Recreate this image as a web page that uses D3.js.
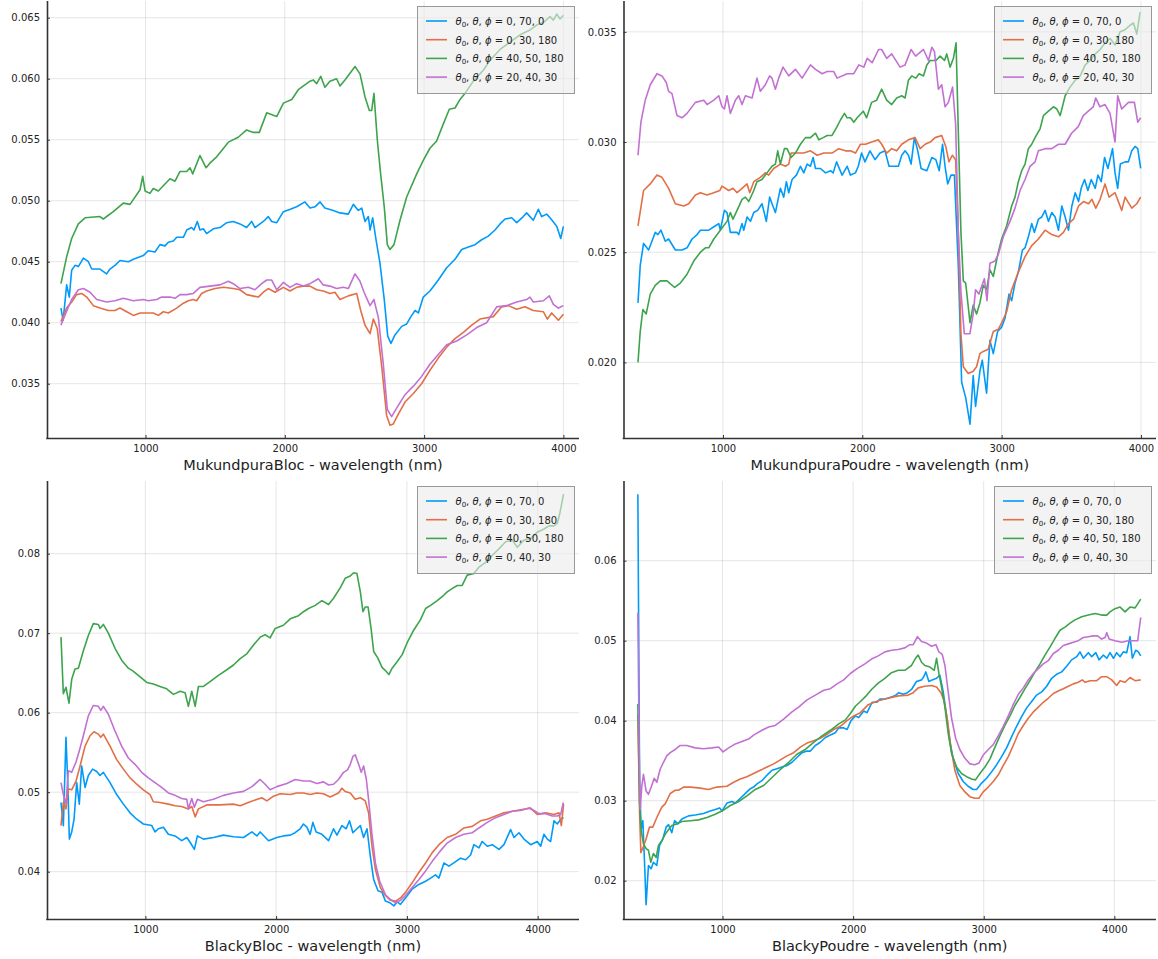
<!DOCTYPE html>
<html><head><meta charset="utf-8">
<script src="https://cdn.jsdelivr.net/npm/d3@7"></script>
<style>html,body{margin:0;padding:0;background:#fff;}svg{display:block;font-family:"DejaVu Sans",sans-serif;}</style>
</head><body>
<svg id="chart" width="1158" height="959"></svg>
<script>
// ---------------- DATA ----------------
const xTicks = [1000, 2000, 3000, 4000];
const yTicksMB = [0.035, 0.040, 0.045, 0.050, 0.055, 0.060, 0.065];
const yTicksMP = [0.020, 0.025, 0.030, 0.035];
const yTicksBB = [0.04, 0.05, 0.06, 0.07, 0.08];
const yTicksBP = [0.02, 0.03, 0.04, 0.05, 0.06];
const labelsMukundpura = ["0, 70, 0", "0, 30, 180", "40, 50, 180", "20, 40, 30"];
const labelsBlacky = ["0, 70, 0", "0, 30, 180", "40, 50, 180", "0, 40, 30"];
const titles = ["MukundpuraBloc - wavelength (nm)", "MukundpuraPoudre - wavelength (nm)", "BlackyBloc - wavelength (nm)", "BlackyPoudre - wavelength (nm)"];

const mbBlue = [[393,0.0412],[409,0.0402],[434,0.0431],[453,0.0421],[470,0.0443],[494,0.0447],[518,0.0446],[554,0.0453],[590,0.0450],[614,0.0444],[673,0.0444],[721,0.0440],[745,0.0444],[781,0.0447],[817,0.0451],[877,0.0450],[913,0.0452],[984,0.0455],[1020,0.0459],[1068,0.0458],[1104,0.0464],[1140,0.0463],[1164,0.0466],[1200,0.0467],[1224,0.0470],[1272,0.0470],[1296,0.0476],[1331,0.0478],[1348,0.0476],[1372,0.0483],[1391,0.0476],[1415,0.0477],[1439,0.0473],[1487,0.0477],[1535,0.0478],[1583,0.0482],[1630,0.0483],[1678,0.0481],[1726,0.0478],[1762,0.0483],[1786,0.0478],[1846,0.0483],[1881,0.0487],[1906,0.0483],[1942,0.0482],[1990,0.0491],[2040,0.0493],[2085,0.0495],[2145,0.0499],[2181,0.0494],[2217,0.0495],[2253,0.0499],[2288,0.0494],[2348,0.0492],[2396,0.0490],[2456,0.0489],[2492,0.0497],[2528,0.0492],[2552,0.0494],[2576,0.0483],[2600,0.0487],[2612,0.0476],[2631,0.0486],[2655,0.0468],[2683,0.0449],[2714,0.0419],[2739,0.0389],[2762,0.0383],[2791,0.0390],[2839,0.0397],[2875,0.0399],[2911,0.0406],[2935,0.0410],[2959,0.0408],[2994,0.0421],[3042,0.0426],[3102,0.0435],[3162,0.0445],[3222,0.0452],[3270,0.0460],[3318,0.0462],[3366,0.0464],[3413,0.0468],[3461,0.0471],[3509,0.0476],[3545,0.0481],[3581,0.0485],[3629,0.0486],[3665,0.0482],[3712,0.0487],[3736,0.0490],[3784,0.0484],[3820,0.0493],[3844,0.0487],[3880,0.0489],[3904,0.0486],[3952,0.0479],[3981,0.0469],[4000,0.0479]];
const mbOrange = [[393,0.0401],[434,0.0412],[470,0.0417],[506,0.0423],[542,0.0424],[578,0.0421],[626,0.0414],[673,0.0412],[733,0.0410],[781,0.0410],[817,0.0412],[865,0.0409],[913,0.0406],[961,0.0408],[1009,0.0408],[1056,0.0408],[1092,0.0406],[1128,0.0409],[1164,0.0408],[1224,0.0412],[1272,0.0416],[1307,0.0418],[1343,0.0419],[1367,0.0418],[1403,0.0424],[1439,0.0426],[1499,0.0428],[1559,0.0429],[1630,0.0428],[1678,0.0427],[1726,0.0423],[1810,0.0421],[1846,0.0425],[1881,0.0428],[1930,0.0425],[1990,0.0429],[2037,0.0426],[2085,0.0429],[2133,0.0430],[2181,0.0430],[2229,0.0427],[2276,0.0426],[2324,0.0424],[2360,0.0425],[2396,0.0419],[2456,0.0422],[2516,0.0424],[2545,0.0410],[2576,0.0398],[2612,0.0391],[2636,0.0403],[2664,0.0395],[2696,0.0364],[2731,0.0324],[2755,0.0316],[2779,0.0317],[2815,0.0325],[2863,0.0335],[2923,0.0342],[2982,0.0350],[3042,0.0361],[3102,0.0371],[3162,0.0380],[3222,0.0387],[3282,0.0392],[3342,0.0398],[3401,0.0403],[3497,0.0405],[3557,0.0413],[3605,0.0414],[3665,0.0411],[3724,0.0413],[3784,0.0410],[3856,0.0409],[3885,0.0403],[3916,0.0408],[3964,0.0402],[4000,0.0407]];
const mbGreen = [[393,0.0432],[434,0.0454],[470,0.0469],[518,0.0481],[566,0.0486],[673,0.0487],[697,0.0485],[769,0.0491],[841,0.0498],[889,0.0497],[961,0.0509],[980,0.0520],[997,0.0508],[1032,0.0506],[1056,0.0510],[1092,0.0508],[1176,0.0518],[1212,0.0516],[1248,0.0524],[1296,0.0524],[1320,0.0527],[1339,0.0522],[1391,0.0537],[1435,0.0527],[1464,0.0531],[1511,0.0536],[1595,0.0548],[1666,0.0552],[1726,0.0558],[1774,0.0556],[1817,0.0556],[1870,0.0572],[1918,0.0570],[1942,0.0569],[1990,0.0580],[2050,0.0583],[2097,0.0591],[2181,0.0598],[2205,0.0599],[2229,0.0596],[2258,0.0602],[2288,0.0593],[2324,0.0598],[2372,0.0600],[2396,0.0594],[2432,0.0599],[2504,0.0610],[2540,0.0604],[2576,0.0585],[2607,0.0574],[2624,0.0574],[2640,0.0588],[2664,0.0550],[2688,0.0522],[2714,0.0495],[2736,0.0464],[2755,0.0460],[2784,0.0464],[2827,0.0484],[2875,0.0503],[2947,0.0522],[2994,0.0533],[3042,0.0543],[3090,0.0549],[3138,0.0563],[3181,0.0575],[3222,0.0576],[3258,0.0583],[3294,0.0588],[3353,0.0598],[3425,0.0607],[3473,0.0615],[3545,0.0624],[3617,0.0630],[3689,0.0636],[3760,0.0640],[3808,0.0644],[3856,0.0646],[3904,0.0651],[3928,0.0648],[3952,0.0653],[3976,0.0649],[4000,0.0652]];
const mbPurple = [[393,0.0398],[421,0.0406],[470,0.0419],[518,0.0427],[554,0.0428],[602,0.0425],[650,0.0419],[721,0.0417],[781,0.0418],[841,0.0420],[913,0.0418],[984,0.0419],[1020,0.0418],[1080,0.0419],[1116,0.0421],[1176,0.0421],[1212,0.0420],[1248,0.0423],[1296,0.0423],[1343,0.0424],[1391,0.0429],[1463,0.0430],[1535,0.0431],[1595,0.0434],[1630,0.0432],[1678,0.0428],[1738,0.0429],[1786,0.0427],[1834,0.0432],[1870,0.0435],[1906,0.0435],[1942,0.0427],[1990,0.0433],[2037,0.0429],[2085,0.0432],[2133,0.0430],[2181,0.0432],[2241,0.0436],[2276,0.0431],[2324,0.0430],[2372,0.0428],[2420,0.0429],[2456,0.0428],[2504,0.0440],[2540,0.0434],[2569,0.0425],[2612,0.0414],[2640,0.0419],[2672,0.0404],[2707,0.0366],[2736,0.0329],[2767,0.0323],[2803,0.0330],[2863,0.0341],[2923,0.0348],[2982,0.0356],[3042,0.0366],[3102,0.0374],[3162,0.0382],[3234,0.0385],[3306,0.0390],[3378,0.0396],[3449,0.0400],[3521,0.0413],[3593,0.0414],[3665,0.0417],[3736,0.0419],[3760,0.0421],[3784,0.0417],[3856,0.0418],[3899,0.0422],[3928,0.0415],[3964,0.0412],[4000,0.0414]];

const mpBlue = [[390,0.0227],[406,0.0244],[430,0.0254],[466,0.0251],[490,0.0255],[514,0.0259],[533,0.0258],[555,0.0260],[586,0.0255],[610,0.0256],[658,0.0251],[706,0.0251],[742,0.0252],[778,0.0256],[814,0.0258],[838,0.0260],[898,0.0260],[946,0.0262],[970,0.0263],[981,0.0260],[1010,0.0269],[1029,0.0268],[1053,0.0259],[1101,0.0259],[1113,0.0258],[1137,0.0263],[1149,0.0260],[1173,0.0266],[1197,0.0264],[1221,0.0268],[1249,0.0269],[1280,0.0272],[1292,0.0269],[1311,0.0264],[1335,0.0275],[1352,0.0272],[1376,0.0268],[1412,0.0279],[1436,0.0275],[1455,0.0282],[1472,0.0277],[1496,0.0283],[1527,0.0285],[1556,0.0289],[1580,0.0286],[1604,0.0290],[1628,0.0289],[1647,0.0293],[1664,0.0288],[1700,0.0288],[1736,0.0286],[1772,0.0287],[1791,0.0286],[1815,0.0291],[1855,0.0285],[1891,0.0289],[1915,0.0285],[1951,0.0286],[1971,0.0289],[1995,0.0295],[2019,0.0291],[2055,0.0296],[2091,0.0292],[2127,0.0295],[2163,0.0296],[2192,0.0289],[2235,0.0289],[2259,0.0289],[2283,0.0294],[2307,0.0296],[2331,0.0294],[2350,0.0290],[2374,0.0302],[2398,0.0296],[2422,0.0288],[2463,0.0287],[2499,0.0293],[2528,0.0292],[2552,0.0287],[2576,0.0299],[2594,0.0289],[2613,0.0281],[2637,0.0285],[2661,0.0285],[2689,0.0244],[2713,0.0191],[2742,0.0184],[2773,0.0172],[2796,0.0194],[2813,0.0180],[2844,0.0196],[2861,0.0201],[2892,0.0186],[2916,0.0210],[2940,0.0204],[2971,0.0214],[3000,0.0216],[3024,0.0220],[3053,0.0231],[3072,0.0228],[3096,0.0236],[3120,0.0241],[3149,0.0251],[3168,0.0252],[3192,0.0257],[3216,0.0263],[3235,0.0259],[3264,0.0265],[3288,0.0266],[3312,0.0269],[3336,0.0264],[3360,0.0268],[3384,0.0266],[3408,0.0260],[3432,0.0271],[3456,0.0266],[3480,0.0260],[3504,0.0271],[3528,0.0277],[3552,0.0273],[3571,0.0279],[3595,0.0283],[3619,0.0278],[3643,0.0283],[3672,0.0279],[3691,0.0285],[3715,0.0282],[3739,0.0293],[3763,0.0288],[3796,0.0297],[3814,0.0286],[3833,0.0279],[3852,0.0290],[3886,0.0291],[3910,0.0291],[3934,0.0296],[3958,0.0298],[3977,0.0297],[3998,0.0288]];
const mpOrange = [[390,0.0262],[430,0.0278],[478,0.0281],[526,0.0285],[562,0.0284],[610,0.0279],[658,0.0272],[718,0.0271],[754,0.0272],[802,0.0276],[838,0.0277],[886,0.0276],[934,0.0277],[977,0.0278],[993,0.0280],[1041,0.0278],[1072,0.0279],[1101,0.0277],[1137,0.0279],[1173,0.0281],[1192,0.0277],[1221,0.0282],[1268,0.0284],[1304,0.0286],[1328,0.0285],[1364,0.0288],[1412,0.0290],[1448,0.0289],[1472,0.0290],[1489,0.0295],[1532,0.0295],[1580,0.0295],[1628,0.0296],[1676,0.0294],[1724,0.0295],[1783,0.0295],[1831,0.0297],[1879,0.0296],[1915,0.0296],[1951,0.0295],[1987,0.0299],[2023,0.0299],[2067,0.0300],[2115,0.0301],[2139,0.0299],[2175,0.0295],[2211,0.0297],[2247,0.0296],[2283,0.0299],[2331,0.0301],[2379,0.0302],[2415,0.0297],[2451,0.0299],[2487,0.0300],[2523,0.0302],[2570,0.0303],[2599,0.0298],[2622,0.0291],[2646,0.0294],[2670,0.0292],[2689,0.0259],[2708,0.0213],[2725,0.0198],[2760,0.0195],[2796,0.0196],[2820,0.0198],[2844,0.0204],[2868,0.0205],[2904,0.0206],[2940,0.0214],[2976,0.0215],[3000,0.0218],[3036,0.0223],[3072,0.0233],[3120,0.0241],[3168,0.0248],[3216,0.0253],[3264,0.0256],[3312,0.0260],[3360,0.0258],[3408,0.0257],[3444,0.0259],[3480,0.0263],[3516,0.0265],[3552,0.0271],[3588,0.0273],[3624,0.0272],[3648,0.0274],[3676,0.0270],[3707,0.0274],[3742,0.0281],[3771,0.0275],[3814,0.0277],[3862,0.0269],[3886,0.0275],[3934,0.0270],[3970,0.0272],[3998,0.0275]];
const mpGreen = [[390,0.0200],[406,0.0214],[425,0.0224],[449,0.0222],[478,0.0231],[514,0.0235],[550,0.0237],[598,0.0237],[653,0.0234],[694,0.0236],[742,0.0240],[790,0.0246],[838,0.0250],[874,0.0252],[898,0.0252],[934,0.0256],[981,0.0260],[1029,0.0264],[1053,0.0268],[1072,0.0265],[1101,0.0269],[1137,0.0274],[1161,0.0275],[1185,0.0273],[1221,0.0278],[1244,0.0282],[1280,0.0283],[1316,0.0286],[1352,0.0289],[1376,0.0290],[1393,0.0296],[1412,0.0290],[1441,0.0297],[1460,0.0297],[1489,0.0293],[1520,0.0295],[1556,0.0299],[1592,0.0302],[1628,0.0302],[1664,0.0304],[1688,0.0301],[1719,0.0302],[1748,0.0303],[1783,0.0303],[1819,0.0307],[1843,0.0310],[1872,0.0313],[1891,0.0311],[1915,0.0311],[1939,0.0309],[1963,0.0311],[2007,0.0314],[2031,0.0311],[2067,0.0318],[2103,0.0319],[2139,0.0324],[2175,0.0319],[2211,0.0317],[2247,0.0320],[2283,0.0321],[2307,0.0320],[2331,0.0328],[2355,0.0330],[2383,0.0329],[2408,0.0331],[2439,0.0330],[2463,0.0335],[2487,0.0337],[2528,0.0337],[2559,0.0339],[2590,0.0337],[2606,0.0340],[2630,0.0334],[2654,0.0338],[2673,0.0345],[2689,0.0305],[2708,0.0259],[2725,0.0237],[2742,0.0236],[2773,0.0218],[2796,0.0226],[2820,0.0222],[2844,0.0227],[2868,0.0235],[2892,0.0233],[2916,0.0242],[2940,0.0239],[2976,0.0250],[3000,0.0256],[3036,0.0262],[3072,0.0271],[3096,0.0275],[3120,0.0282],[3144,0.0287],[3168,0.0290],[3192,0.0297],[3216,0.0299],[3240,0.0302],[3276,0.0306],[3300,0.0312],[3336,0.0314],[3372,0.0316],[3396,0.0315],[3420,0.0312],[3456,0.0321],[3492,0.0325],[3528,0.0328],[3564,0.0330],[3600,0.0335],[3636,0.0337],[3672,0.0340],[3707,0.0342],[3743,0.0345],[3779,0.0347],[3814,0.0344],[3850,0.0350],[3886,0.0351],[3922,0.0353],[3946,0.0354],[3970,0.0349],[3994,0.0359]];
const mpPurple = [[390,0.0294],[411,0.0309],[442,0.0319],[478,0.0326],[526,0.0331],[562,0.0330],[593,0.0327],[610,0.0323],[634,0.0322],[670,0.0312],[706,0.0311],[742,0.0313],[802,0.0318],[862,0.0319],[886,0.0317],[934,0.0319],[970,0.0321],[993,0.0316],[1010,0.0315],[1029,0.0321],[1053,0.0313],[1089,0.0319],[1113,0.0321],[1137,0.0317],[1161,0.0321],[1209,0.0320],[1244,0.0329],[1268,0.0323],[1304,0.0326],[1335,0.0330],[1352,0.0329],[1376,0.0324],[1400,0.0329],[1431,0.0334],[1472,0.0330],[1520,0.0333],[1568,0.0329],[1628,0.0335],[1664,0.0333],[1712,0.0331],[1748,0.0332],[1795,0.0332],[1819,0.0329],[1891,0.0331],[1939,0.0331],[1975,0.0335],[2011,0.0334],[2035,0.0338],[2071,0.0336],[2117,0.0342],[2139,0.0342],[2175,0.0338],[2211,0.0340],[2271,0.0334],[2307,0.0335],[2350,0.0342],[2383,0.0339],[2439,0.0342],[2475,0.0337],[2499,0.0343],[2518,0.0341],[2546,0.0324],[2570,0.0326],[2594,0.0316],[2618,0.0318],[2648,0.0325],[2670,0.0308],[2689,0.0259],[2708,0.0232],[2732,0.0213],[2772,0.0213],[2796,0.0222],[2813,0.0233],[2837,0.0231],[2876,0.0238],[2895,0.0228],[2916,0.0245],[2952,0.0246],[2976,0.0249],[3012,0.0257],[3060,0.0264],[3096,0.0270],[3132,0.0278],[3168,0.0283],[3204,0.0289],[3240,0.0291],[3264,0.0296],[3312,0.0297],[3360,0.0297],[3408,0.0299],[3456,0.0299],[3502,0.0304],[3550,0.0307],[3586,0.0312],[3622,0.0314],[3658,0.0316],[3675,0.0320],[3706,0.0316],[3742,0.0317],[3778,0.0313],[3814,0.0300],[3833,0.0321],[3862,0.0315],[3910,0.0318],[3953,0.0318],[3977,0.0309],[3998,0.0311]];

const bbBlue = [[355,0.0487],[373,0.0458],[393,0.0569],[406,0.0516],[419,0.0441],[437,0.0450],[455,0.0466],[475,0.0512],[495,0.0485],[513,0.0533],[539,0.0506],[564,0.0521],[597,0.0529],[628,0.0526],[653,0.0521],[679,0.0525],[730,0.0512],[781,0.0497],[832,0.0485],[883,0.0474],[934,0.0466],[985,0.0460],[1049,0.0458],[1074,0.0450],[1100,0.0454],[1138,0.0456],[1176,0.0447],[1227,0.0445],[1278,0.0439],[1317,0.0443],[1342,0.0437],[1375,0.0428],[1398,0.0445],[1444,0.0441],[1521,0.0443],[1597,0.0446],[1674,0.0444],[1751,0.0443],[1815,0.0450],[1853,0.0445],[1878,0.0450],[1942,0.0439],[2005,0.0443],[2056,0.0445],[2108,0.0446],[2145,0.0449],[2184,0.0454],[2209,0.0460],[2235,0.0456],[2260,0.0447],[2281,0.0462],[2306,0.0450],[2350,0.0447],[2401,0.0439],[2439,0.0454],[2465,0.0446],[2503,0.0458],[2536,0.0454],[2561,0.0464],[2587,0.0449],[2618,0.0454],[2644,0.0458],[2669,0.0443],[2695,0.0454],[2720,0.0420],[2746,0.0390],[2779,0.0376],[2810,0.0374],[2836,0.0363],[2869,0.0361],[2900,0.0357],[2925,0.0362],[2951,0.0359],[2989,0.0367],[3040,0.0378],[3091,0.0384],[3143,0.0388],[3181,0.0392],[3219,0.0396],[3245,0.0392],[3283,0.0411],[3321,0.0407],[3359,0.0411],[3410,0.0417],[3449,0.0415],[3487,0.0421],[3512,0.0434],[3551,0.0430],[3576,0.0438],[3615,0.0432],[3653,0.0434],[3704,0.0428],[3742,0.0434],[3793,0.0453],[3819,0.0443],[3857,0.0449],[3895,0.0441],[3946,0.0434],[3997,0.0438],[4023,0.0432],[4048,0.0447],[4074,0.0441],[4099,0.0438],[4125,0.0464],[4150,0.0460],[4176,0.0466],[4198,0.0468]];
const bbOrange = [[355,0.0458],[373,0.0487],[393,0.0479],[411,0.0504],[437,0.0503],[470,0.0514],[501,0.0533],[539,0.0558],[577,0.0571],[607,0.0576],[641,0.0573],[659,0.0569],[679,0.0573],[730,0.0558],[781,0.0541],[832,0.0529],[883,0.0518],[934,0.0510],[985,0.0503],[1036,0.0497],[1061,0.0488],[1112,0.0487],[1176,0.0485],[1227,0.0483],[1278,0.0482],[1329,0.0479],[1355,0.0482],[1381,0.0469],[1406,0.0479],[1470,0.0484],[1572,0.0484],[1674,0.0485],[1725,0.0483],[1802,0.0488],[1891,0.0493],[1929,0.0489],[1980,0.0495],[2031,0.0498],[2108,0.0497],[2158,0.0499],[2209,0.0499],[2260,0.0497],[2311,0.0499],[2362,0.0498],[2413,0.0494],[2452,0.0497],[2477,0.0499],[2503,0.0505],[2528,0.0501],[2567,0.0499],[2605,0.0491],[2644,0.0493],[2682,0.0489],[2707,0.0474],[2733,0.0432],[2759,0.0403],[2797,0.0380],[2836,0.0370],[2874,0.0364],[2913,0.0363],[2951,0.0367],[2989,0.0374],[3040,0.0386],[3091,0.0399],[3143,0.0411],[3194,0.0424],[3245,0.0434],[3308,0.0443],[3372,0.0447],[3436,0.0455],[3500,0.0457],[3563,0.0464],[3615,0.0466],[3678,0.0470],[3742,0.0474],[3806,0.0476],[3870,0.0478],[3946,0.0480],[3997,0.0472],[4061,0.0474],[4125,0.0472],[4163,0.0474],[4181,0.0458],[4198,0.0485]];
const bbGreen = [[355,0.0695],[373,0.0624],[393,0.0632],[416,0.0612],[437,0.0642],[462,0.0655],[488,0.0656],[526,0.0678],[564,0.0697],[602,0.0712],[641,0.0711],[653,0.0706],[679,0.0711],[717,0.0700],[768,0.0681],[819,0.0666],[870,0.0656],[909,0.0652],[960,0.0645],[1011,0.0638],[1061,0.0636],[1112,0.0633],[1163,0.0630],[1215,0.0623],[1266,0.0627],[1304,0.0625],[1329,0.0608],[1355,0.0627],[1381,0.0608],[1406,0.0633],[1444,0.0633],[1495,0.0639],[1559,0.0647],[1623,0.0654],[1674,0.0660],[1725,0.0668],[1776,0.0674],[1827,0.0685],[1878,0.0695],[1916,0.0698],[1954,0.0694],[1993,0.0706],[2056,0.0710],[2108,0.0718],[2171,0.0722],[2209,0.0727],[2248,0.0731],[2299,0.0735],[2350,0.0741],[2401,0.0736],[2439,0.0744],[2490,0.0757],[2528,0.0769],[2567,0.0772],[2593,0.0776],[2618,0.0775],[2644,0.0752],[2664,0.0727],[2682,0.0733],[2703,0.0733],[2726,0.0706],[2746,0.0677],[2777,0.0669],[2810,0.0657],[2836,0.0653],[2862,0.0648],[2887,0.0656],[2925,0.0664],[2964,0.0673],[3002,0.0688],[3053,0.0704],[3104,0.0717],[3143,0.0731],[3181,0.0735],[3232,0.0741],[3283,0.0748],[3308,0.0752],[3346,0.0756],[3385,0.0760],[3423,0.0760],[3461,0.0773],[3512,0.0775],[3551,0.0783],[3602,0.0789],[3653,0.0798],[3704,0.0806],[3755,0.0815],[3806,0.0817],[3844,0.0808],[3895,0.0817],[3946,0.0819],[3997,0.0827],[4048,0.0831],[4086,0.0835],[4125,0.0835],[4150,0.0838],[4171,0.0852],[4198,0.0875]];
const bbPurple = [[355,0.0512],[373,0.0497],[393,0.0485],[411,0.0527],[437,0.0525],[470,0.0538],[495,0.0552],[526,0.0571],[564,0.0596],[602,0.0609],[641,0.0608],[659,0.0603],[679,0.0608],[717,0.0598],[768,0.0577],[819,0.0558],[870,0.0543],[921,0.0535],[972,0.0525],[1023,0.0518],[1074,0.0512],[1125,0.0506],[1176,0.0499],[1227,0.0496],[1278,0.0492],[1317,0.0491],[1329,0.0479],[1355,0.0492],[1375,0.0481],[1398,0.0491],[1444,0.0488],[1521,0.0491],[1597,0.0496],[1674,0.0499],[1751,0.0501],[1815,0.0507],[1878,0.0516],[1916,0.0510],[1954,0.0503],[2005,0.0507],[2082,0.0511],[2146,0.0516],[2209,0.0514],[2260,0.0514],[2311,0.0511],[2362,0.0513],[2401,0.0509],[2439,0.0510],[2477,0.0516],[2516,0.0525],[2546,0.0528],[2567,0.0535],[2587,0.0545],[2605,0.0547],[2631,0.0535],[2651,0.0525],[2669,0.0533],[2690,0.0516],[2707,0.0491],[2733,0.0447],[2759,0.0411],[2792,0.0388],[2836,0.0371],[2874,0.0365],[2913,0.0361],[2951,0.0364],[2989,0.0370],[3040,0.0380],[3091,0.0390],[3143,0.0401],[3194,0.0413],[3245,0.0424],[3308,0.0436],[3372,0.0443],[3436,0.0447],[3500,0.0449],[3551,0.0455],[3615,0.0462],[3678,0.0468],[3742,0.0472],[3806,0.0476],[3870,0.0477],[3934,0.0480],[3972,0.0477],[4010,0.0473],[4061,0.0473],[4112,0.0470],[4150,0.0470],[4176,0.0472],[4196,0.0487]];

const bpBlue = [[352,0.0683],[365,0.0327],[377,0.0264],[390,0.0275],[403,0.0223],[415,0.0170],[433,0.0219],[454,0.0215],[471,0.0223],[497,0.0219],[518,0.0244],[543,0.0252],[569,0.0267],[587,0.0270],[612,0.0260],[633,0.0275],[658,0.0271],[689,0.0277],[740,0.0281],[791,0.0282],[855,0.0284],[906,0.0287],[944,0.0289],[978,0.0291],[996,0.0287],[1034,0.0297],[1072,0.0299],[1098,0.0297],[1136,0.0303],[1162,0.0307],[1187,0.0311],[1213,0.0315],[1238,0.0317],[1264,0.0321],[1302,0.0325],[1341,0.0332],[1379,0.0338],[1417,0.0340],[1455,0.0342],[1494,0.0344],[1532,0.0348],[1570,0.0354],[1609,0.0360],[1647,0.0362],[1673,0.0362],[1711,0.0369],[1749,0.0373],[1788,0.0379],[1826,0.0382],[1864,0.0385],[1890,0.0391],[1928,0.0391],[1954,0.0389],[1984,0.0400],[2017,0.0406],[2043,0.0404],[2081,0.0412],[2107,0.0410],[2145,0.0423],[2183,0.0423],[2205,0.0427],[2243,0.0427],[2281,0.0429],[2320,0.0431],[2350,0.0435],[2383,0.0433],[2416,0.0435],[2447,0.0439],[2485,0.0449],[2524,0.0451],[2541,0.0455],[2557,0.0461],[2580,0.0449],[2605,0.0451],[2639,0.0453],[2664,0.0457],[2690,0.0436],[2715,0.0407],[2741,0.0374],[2766,0.0353],[2805,0.0334],[2843,0.0324],[2881,0.0318],[2919,0.0314],[2945,0.0314],[2984,0.0322],[3022,0.0328],[3060,0.0336],[3099,0.0345],[3137,0.0355],[3175,0.0366],[3214,0.0380],[3252,0.0393],[3290,0.0405],[3329,0.0416],[3367,0.0424],[3405,0.0432],[3444,0.0436],[3482,0.0443],[3520,0.0453],[3558,0.0458],[3597,0.0461],[3635,0.0468],[3673,0.0476],[3712,0.0480],[3737,0.0486],[3763,0.0478],[3801,0.0485],[3827,0.0480],[3858,0.0485],[3883,0.0476],[3916,0.0482],[3942,0.0478],[3967,0.0485],[3993,0.0478],[4018,0.0485],[4044,0.0480],[4069,0.0486],[4095,0.0485],[4120,0.0505],[4138,0.0478],[4164,0.0488],[4184,0.0486],[4202,0.0481]];
const bpOrange = [[352,0.0408],[365,0.0285],[375,0.0235],[395,0.0243],[415,0.0252],[441,0.0267],[466,0.0267],[497,0.0279],[535,0.0292],[561,0.0296],[600,0.0309],[638,0.0313],[663,0.0313],[702,0.0317],[753,0.0317],[817,0.0316],[893,0.0314],[957,0.0317],[1034,0.0318],[1085,0.0323],[1136,0.0327],[1187,0.0330],[1238,0.0334],[1289,0.0338],[1341,0.0342],[1392,0.0346],[1443,0.0351],[1494,0.0356],[1545,0.0360],[1596,0.0367],[1647,0.0372],[1698,0.0375],[1749,0.0378],[1800,0.0383],[1851,0.0389],[1902,0.0393],[1954,0.0400],[2005,0.0406],[2056,0.0410],[2116,0.0420],[2192,0.0425],[2269,0.0428],[2345,0.0431],[2422,0.0432],[2460,0.0435],[2498,0.0441],[2549,0.0443],[2600,0.0444],[2639,0.0442],[2672,0.0435],[2697,0.0425],[2723,0.0400],[2748,0.0367],[2779,0.0338],[2817,0.0319],[2856,0.0311],[2894,0.0305],[2932,0.0303],[2963,0.0303],[2996,0.0311],[3035,0.0317],[3073,0.0324],[3111,0.0332],[3150,0.0344],[3188,0.0355],[3226,0.0369],[3265,0.0384],[3303,0.0394],[3341,0.0403],[3380,0.0411],[3418,0.0417],[3456,0.0423],[3494,0.0428],[3533,0.0434],[3571,0.0437],[3609,0.0440],[3648,0.0443],[3686,0.0446],[3724,0.0448],[3755,0.0451],[3775,0.0448],[3814,0.0450],[3865,0.0450],[3903,0.0455],[3941,0.0455],[3980,0.0451],[4018,0.0444],[4044,0.0450],[4082,0.0448],[4120,0.0454],[4159,0.0450],[4202,0.0451]];
const bpGreen = [[352,0.0421],[365,0.0298],[377,0.0263],[395,0.0246],[415,0.0240],[433,0.0238],[451,0.0223],[471,0.0234],[492,0.0229],[510,0.0244],[535,0.0250],[569,0.0260],[612,0.0269],[651,0.0271],[689,0.0274],[753,0.0275],[817,0.0276],[881,0.0279],[944,0.0283],[996,0.0287],[1060,0.0294],[1124,0.0299],[1187,0.0306],[1251,0.0314],[1315,0.0319],[1379,0.0329],[1443,0.0339],[1507,0.0348],[1570,0.0358],[1634,0.0364],[1698,0.0373],[1762,0.0381],[1826,0.0388],[1890,0.0396],[1941,0.0401],[1979,0.0409],[2017,0.0418],[2056,0.0424],[2094,0.0430],[2141,0.0439],[2192,0.0447],[2243,0.0453],[2294,0.0460],[2345,0.0463],[2396,0.0463],[2447,0.0469],[2478,0.0478],[2498,0.0482],[2524,0.0473],[2549,0.0469],[2588,0.0467],[2621,0.0463],[2639,0.0478],[2657,0.0459],[2677,0.0442],[2703,0.0417],[2728,0.0384],[2754,0.0359],[2792,0.0342],[2830,0.0334],[2869,0.0330],[2907,0.0327],[2937,0.0326],[2971,0.0334],[3009,0.0342],[3047,0.0352],[3086,0.0367],[3124,0.0381],[3162,0.0394],[3201,0.0406],[3239,0.0419],[3277,0.0429],[3316,0.0440],[3354,0.0450],[3392,0.0461],[3431,0.0471],[3469,0.0482],[3507,0.0492],[3546,0.0503],[3584,0.0513],[3622,0.0517],[3661,0.0522],[3699,0.0526],[3750,0.0530],[3801,0.0532],[3852,0.0534],[3903,0.0532],[3942,0.0532],[3967,0.0536],[4005,0.0540],[4044,0.0542],[4082,0.0536],[4120,0.0542],[4159,0.0541],[4202,0.0552]];
const bpPurple = [[352,0.0535],[362,0.0368],[370,0.0289],[382,0.0318],[395,0.0333],[415,0.0312],[433,0.0308],[454,0.0317],[477,0.0328],[497,0.0323],[522,0.0339],[548,0.0348],[573,0.0356],[600,0.0360],[638,0.0364],[676,0.0369],[727,0.0369],[791,0.0366],[855,0.0365],[919,0.0366],[970,0.0367],[1004,0.0361],[1047,0.0366],[1098,0.0371],[1149,0.0374],[1200,0.0377],[1238,0.0382],[1302,0.0388],[1353,0.0392],[1404,0.0394],[1468,0.0402],[1532,0.0411],[1583,0.0417],[1647,0.0426],[1711,0.0432],[1775,0.0438],[1826,0.0440],[1877,0.0446],[1928,0.0451],[1979,0.0459],[2030,0.0465],[2090,0.0471],[2141,0.0477],[2192,0.0481],[2243,0.0486],[2294,0.0488],[2345,0.0489],[2396,0.0491],[2434,0.0495],[2460,0.0495],[2493,0.0505],[2524,0.0499],[2562,0.0497],[2600,0.0493],[2634,0.0495],[2657,0.0486],[2682,0.0483],[2703,0.0469],[2728,0.0436],[2754,0.0403],[2785,0.0378],[2817,0.0364],[2856,0.0353],[2894,0.0346],[2932,0.0345],[2963,0.0347],[2996,0.0357],[3035,0.0364],[3073,0.0370],[3111,0.0381],[3150,0.0393],[3188,0.0406],[3226,0.0420],[3265,0.0433],[3303,0.0441],[3341,0.0451],[3380,0.0459],[3418,0.0465],[3456,0.0471],[3494,0.0475],[3533,0.0484],[3571,0.0488],[3609,0.0494],[3648,0.0496],[3686,0.0498],[3724,0.0500],[3763,0.0504],[3801,0.0505],[3839,0.0506],[3872,0.0506],[3903,0.0502],[3929,0.0504],[3942,0.0510],[3960,0.0502],[4005,0.0500],[4057,0.0498],[4107,0.0500],[4146,0.0500],[4179,0.0500],[4202,0.0529]];

// ---------------- LAYOUT ----------------
const colors = ["#009af9", "#e26f46", "#3da44d", "#c271d2"];
const panels = [
  {title: titles[0], series: [mbBlue, mbOrange, mbGreen, mbPurple], labels: labelsMukundpura,
   xDom: [293, 4112], yDom: [0.03055, 0.06637], yTicks: yTicksMB, fmt: ".3f", l: 47, r: 579, t: 1, b: 438},
  {title: titles[1], series: [mpBlue, mpOrange, mpGreen, mpPurple], labels: labelsMukundpura,
   xDom: [286, 4108], yDom: [0.01657, 0.0364], yTicks: yTicksMP, fmt: ".3f", l: 623.5, r: 1156, t: 1, b: 438},
  {title: titles[2], series: [bbBlue, bbOrange, bbGreen, bbPurple], labels: labelsBlacky,
   xDom: [248, 4316], yDom: [0.03405, 0.08914], yTicks: yTicksBB, fmt: ".2f", l: 47, r: 579, t: 481, b: 919},
  {title: titles[3], series: [bpBlue, bpOrange, bpGreen, bpPurple], labels: labelsBlacky,
   xDom: [242, 4319], yDom: [0.01521, 0.06996], yTicks: yTicksBP, fmt: ".2f", l: 623.5, r: 1156, t: 481, b: 919}
];

const svg = d3.select("#chart");
svg.append("rect").attr("width", 1158).attr("height", 959).attr("fill", "#fff");

panels.forEach(p => {
  const x = d3.scaleLinear().domain(p.xDom).range([p.l, p.r]);
  const y = d3.scaleLinear().domain(p.yDom).range([p.b, p.t]);
  const g = svg.append("g");

  // grid
  g.append("g").selectAll("line").data(xTicks).join("line")
    .attr("x1", d => x(d)).attr("x2", d => x(d)).attr("y1", p.t).attr("y2", p.b)
    .attr("stroke", "#000").attr("stroke-opacity", 0.1).attr("stroke-width", 1);
  g.append("g").selectAll("line").data(p.yTicks).join("line")
    .attr("x1", p.l).attr("x2", p.r).attr("y1", d => y(d)).attr("y2", d => y(d))
    .attr("stroke", "#000").attr("stroke-opacity", 0.1).attr("stroke-width", 1);

  // lines
  const line = d3.line().x(d => x(d[0])).y(d => y(d[1]));
  p.series.forEach((s, i) => {
    g.append("path").datum(s).attr("d", line)
      .attr("fill", "none").attr("stroke", colors[i]).attr("stroke-width", 1.6)
      .attr("stroke-linejoin", "round");
  });

  // axes
  const ax = g.append("g").attr("transform", `translate(0,${p.b})`)
    .call(d3.axisBottom(x).tickValues(xTicks).tickFormat(d3.format("d")).tickSizeInner(-3).tickSizeOuter(0).tickPadding(7));
  const ay = g.append("g").attr("transform", `translate(${p.l},0)`)
    .call(d3.axisLeft(y).tickValues(p.yTicks).tickFormat(d3.format(p.fmt)).tickSizeInner(-3).tickSizeOuter(0).tickPadding(7));
  [ax, ay].forEach(a => {
    a.select(".domain").attr("stroke", "#333").attr("stroke-width", 1.6);
    a.selectAll(".tick line").attr("stroke", "#333").attr("stroke-width", 1);
    a.selectAll(".tick text").attr("fill", "#222").style("font-size", "10px").style("font-family", "DejaVu Sans");
  });
  ax.select(".domain").attr("d", `M${p.l - 0.8},0.5H${p.r}`);
  ay.select(".domain").attr("d", `M0.5,${p.b + 0.8}V${p.t}`);

  // x title
  g.append("text").attr("x", (p.l + p.r) / 2).attr("y", p.b + 32)
    .attr("text-anchor", "middle").attr("fill", "#222")
    .style("font-size", "14.5px").text(p.title);

  // legend
  const lw = 157, lh = 87;
  const lx = p.r - 5 - lw, ly = p.t + 5;
  const leg = g.append("g");
  leg.append("rect").attr("x", lx + 0.5).attr("y", ly + 0.5).attr("width", lw).attr("height", lh)
    .attr("fill", "#ebebeb").attr("fill-opacity", 0.6).attr("stroke", "#999").attr("stroke-width", 1);
  p.labels.forEach((lab, i) => {
    const cy = ly + 15 + i * 18.7;
    leg.append("line").attr("x1", lx + 9).attr("x2", lx + 30).attr("y1", cy).attr("y2", cy)
      .attr("stroke", colors[i]).attr("stroke-width", 1.6);
    const t = leg.append("text").attr("x", lx + 38.5).attr("y", cy + 3.8)
      .attr("fill", "#222").style("font-size", "10px");
    t.append("tspan").attr("font-style", "italic").text("θ");
    t.append("tspan").style("font-size", "7px").attr("dy", 2).text("0");
    t.append("tspan").attr("dy", -2).text(", ");
    t.append("tspan").attr("font-style", "italic").text("θ");
    t.append("tspan").text(", ");
    t.append("tspan").attr("font-style", "italic").text("ϕ");
    t.append("tspan").text(" = " + lab);
  });
});
</script>
</body></html>
